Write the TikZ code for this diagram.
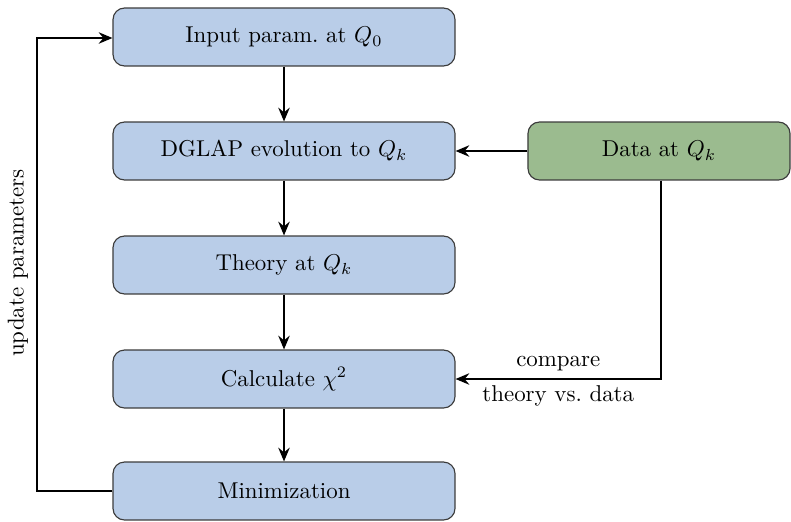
\documentclass[tikz,border=0pt]{standalone}
\usetikzlibrary{arrows.meta,positioning}
\definecolor{boxblue}{RGB}{185,205,232}
\definecolor{boxgreen}{RGB}{155,187,143}
\definecolor{edgegray}{RGB}{60,60,60}
\tikzset{
  stage/.style={draw=edgegray, line width=0.5pt, rounded corners=5pt,
    fill=boxblue, minimum width=149.3pt, minimum height=25.3pt, align=center},
  datastage/.style={stage, fill=boxgreen, minimum width=114.4pt},
  flow/.style={thick, -{Stealth[length=6pt,width=5pt,inset=2pt]}},
  plainline/.style={thick}
}
\begin{document}
\begin{tikzpicture}[x=0.4366pt,y=-0.4366pt]
  \useasboundingbox (0,0) rectangle (791,521);

  % main chain of the fit
  \node[stage] (input) at (284,37)  {Input param.\ at $Q_0$};
  \node[stage] (dglap) at (284,151) {DGLAP evolution to $Q_k$};
  \node[stage] (theory) at (284,265) {Theory at $Q_k$};
  \node[stage] (chi) at (284,379) {Calculate $\chi^2$};
  \node[stage] (mini) at (284,491) {Minimization};
  \node[datastage] (data) at (659,151) {Data at $Q_k$};

  \draw[flow] (input) -- (dglap);
  \draw[flow] (dglap) -- (theory);
  \draw[flow] (theory) -- (chi);
  \draw[flow] (chi) -- (mini);
  \draw[flow] (data) -- (dglap);

  % data compared with theory
  \coordinate (turn) at (661,379);
  \draw[flow] (data.south -| turn) -- (turn)
    -- node[above=-0.3pt] {compare} node[below=-0.7pt] {theory vs.\ data} (chi.east);

  % feedback loop
  \coordinate (loopbot) at (37,491);
  \coordinate (looptop) at (37,38);
  \draw[flow] (mini.west) -- (loopbot) -- (looptop) -- (input.west |- looptop);
  \node[rotate=90] (upd) at (18,263) {update parameters};
\end{tikzpicture}
\end{document}
